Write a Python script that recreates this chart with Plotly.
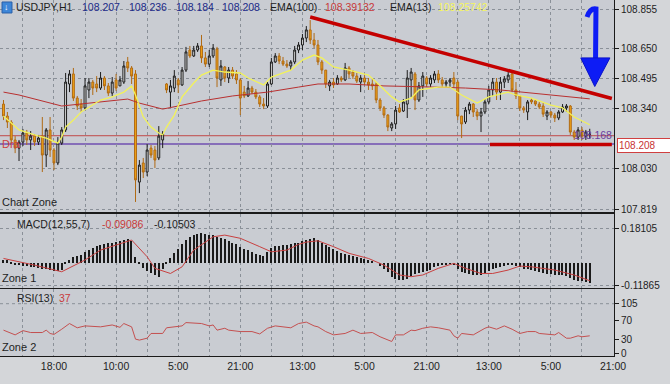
import plotly.graph_objects as go
from plotly.subplots import make_subplots

# ---------------- data ----------------
bars = list(range(152))

opens = [108.364,108.302,108.271,108.178,108.136,108.167,108.214,108.178,108.198,108.167,
         108.198,108.100,108.230,108.126,108.059,108.162,108.230,108.468,108.520,108.395,
         108.364,108.344,108.437,108.478,108.468,108.447,108.499,108.458,108.421,108.489,
         108.458,108.478,108.582,108.551,108.520,107.960,108.059,108.012,108.136,108.126,
         108.085,108.178,108.468,108.426,108.447,108.489,108.463,108.540,108.644,108.613,
         108.644,108.665,108.603,108.571,108.613,108.649,108.489,108.556,108.499,108.540,
         108.520,108.489,108.426,108.406,108.447,108.426,108.401,108.364,108.354,108.468,
         108.582,108.613,108.587,108.571,108.561,108.582,108.644,108.670,108.706,108.748,
         108.696,108.670,108.582,108.540,108.458,108.478,108.468,108.499,108.489,108.551,
         108.530,108.509,108.478,108.499,108.478,108.468,108.468,108.385,108.344,108.307,
         108.240,108.261,108.344,108.328,108.364,108.489,108.520,108.385,108.458,108.499,
         108.468,108.489,108.520,108.489,108.468,108.478,108.499,108.478,108.302,108.271,
         108.333,108.364,108.323,108.302,108.323,108.375,108.437,108.478,108.426,108.478,
         108.489,108.520,108.437,108.406,108.344,108.323,108.385,108.380,108.364,108.354,
         108.302,108.323,108.307,108.292,108.323,108.344,108.354,108.219,108.193,108.230,
         108.198,108.207]

highs = [108.385,108.323,108.281,108.198,108.178,108.235,108.230,108.224,108.209,108.204,
         108.297,108.240,108.297,108.136,108.193,108.245,108.525,108.540,108.551,108.406,
         108.390,108.499,108.499,108.489,108.509,108.530,108.509,108.473,108.504,108.520,
         108.509,108.587,108.608,108.561,108.540,108.074,108.085,108.157,108.152,108.147,
         108.250,108.224,108.473,108.489,108.540,108.499,108.556,108.660,108.665,108.665,
         108.680,108.722,108.634,108.644,108.675,108.660,108.592,108.561,108.556,108.556,
         108.540,108.499,108.458,108.483,108.458,108.442,108.411,108.395,108.478,108.603,
         108.628,108.628,108.608,108.592,108.592,108.665,108.685,108.727,108.768,108.799,
         108.732,108.696,108.592,108.540,108.489,108.499,108.514,108.509,108.577,108.561,
         108.540,108.525,108.514,108.514,108.499,108.499,108.478,108.395,108.354,108.312,
         108.271,108.354,108.364,108.390,108.540,108.551,108.530,108.478,108.530,108.509,
         108.514,108.535,108.540,108.504,108.489,108.499,108.530,108.489,108.302,108.349,
         108.375,108.369,108.338,108.344,108.390,108.458,108.499,108.499,108.504,108.509,
         108.540,108.530,108.478,108.406,108.354,108.385,108.395,108.385,108.375,108.369,
         108.333,108.328,108.318,108.333,108.364,108.364,108.359,108.230,108.245,108.245,
         108.230,108.236]

lows = [108.281,108.240,108.162,108.110,108.069,108.147,108.152,108.126,108.147,108.152,
        108.012,108.038,108.090,108.022,108.048,108.152,108.219,108.426,108.380,108.333,
        108.323,108.333,108.395,108.411,108.426,108.437,108.437,108.406,108.406,108.432,
        108.458,108.468,108.530,108.468,107.857,107.903,107.981,107.991,108.085,108.033,
        108.074,108.136,108.421,108.349,108.426,108.421,108.458,108.530,108.603,108.608,
        108.634,108.577,108.556,108.556,108.603,108.452,108.458,108.478,108.473,108.494,
        108.468,108.307,108.395,108.401,108.416,108.390,108.349,108.338,108.344,108.463,
        108.577,108.571,108.561,108.551,108.540,108.571,108.628,108.644,108.685,108.675,
        108.654,108.566,108.520,108.447,108.432,108.447,108.463,108.478,108.483,108.499,
        108.494,108.473,108.426,108.463,108.437,108.437,108.369,108.328,108.292,108.224,
        108.224,108.235,108.318,108.323,108.292,108.401,108.333,108.375,108.401,108.452,
        108.452,108.473,108.473,108.452,108.452,108.452,108.447,108.281,108.188,108.261,
        108.312,108.297,108.281,108.219,108.312,108.364,108.406,108.385,108.385,108.447,
        108.473,108.426,108.390,108.328,108.318,108.281,108.364,108.354,108.338,108.297,
        108.281,108.292,108.271,108.281,108.318,108.323,108.204,108.178,108.178,108.178,
        108.178,108.184]

closes = [108.302,108.271,108.178,108.136,108.167,108.214,108.178,108.198,108.167,108.188,
          108.100,108.230,108.126,108.059,108.162,108.230,108.478,108.520,108.395,108.354,
          108.344,108.458,108.478,108.447,108.447,108.499,108.458,108.421,108.478,108.447,
          108.489,108.561,108.551,108.509,107.971,108.048,108.012,108.126,108.100,108.074,
          108.198,108.209,108.437,108.458,108.509,108.463,108.540,108.634,108.613,108.644,
          108.665,108.603,108.571,108.613,108.654,108.499,108.561,108.499,108.540,108.509,
          108.489,108.395,108.406,108.447,108.426,108.401,108.364,108.354,108.468,108.582,
          108.613,108.587,108.571,108.561,108.582,108.644,108.670,108.706,108.748,108.696,
          108.670,108.582,108.540,108.468,108.478,108.463,108.499,108.489,108.551,108.520,
          108.509,108.483,108.499,108.478,108.463,108.458,108.385,108.344,108.307,108.245,
          108.261,108.333,108.323,108.375,108.499,108.530,108.385,108.458,108.509,108.468,
          108.499,108.520,108.489,108.468,108.478,108.489,108.468,108.302,108.261,108.333,
          108.364,108.323,108.302,108.323,108.375,108.437,108.478,108.426,108.478,108.494,
          108.514,108.437,108.406,108.344,108.333,108.375,108.375,108.364,108.349,108.312,
          108.323,108.307,108.292,108.323,108.349,108.354,108.219,108.193,108.230,108.198,
          108.219,108.208]

ema13_x = [0,2,4,8,11,14,15,16,18,20,25,28,31,33,34,36,38,40,41,42,44,46,49,51,54,57,61,63,67,69,
           74,77,80,82,85,89,94,96,100,102,105,107,112,115,118,122,125,130,132,136,141,144,147,151]
ema13_y = [108.302,108.266,108.230,108.204,108.188,108.162,108.193,108.245,108.281,108.323,
           108.385,108.401,108.426,108.458,108.411,108.297,108.245,108.214,108.204,108.245,
           108.307,108.401,108.473,108.514,108.540,108.530,108.525,108.499,108.463,108.504,
           108.540,108.592,108.618,108.603,108.556,108.540,108.514,108.478,108.401,108.375,
           108.395,108.437,108.452,108.452,108.411,108.369,108.401,108.426,108.411,108.395,
           108.359,108.344,108.297,108.257]

ema100_x = [0,4,15,22,27,32,35,41,45,51,59,68,76,81,89,98,111,119,128,136,145,151]
ema100_y = [108.426,108.411,108.354,108.369,108.380,108.390,108.369,108.338,108.354,108.380,
            108.406,108.426,108.452,108.468,108.468,108.458,108.452,108.447,108.437,108.421,
            108.401,108.391]

macd_hist = [0.020,0.018,0.010,-0.005,-0.010,-0.012,-0.015,-0.018,-0.020,-0.022,
             -0.030,-0.032,-0.035,-0.040,-0.042,-0.035,0.005,0.020,0.035,0.040,
             0.045,0.060,0.070,0.080,0.090,0.095,0.100,0.105,0.110,0.115,
             0.120,0.125,0.130,0.120,0.035,0.010,-0.025,-0.040,-0.050,-0.060,
             -0.070,-0.030,0.010,0.030,0.055,0.075,0.100,0.125,0.140,0.150,
             0.155,0.158,0.155,0.150,0.148,0.140,0.135,0.128,0.120,0.110,
             0.100,0.085,0.075,0.068,0.060,0.052,0.045,0.040,0.060,0.080,
             0.090,0.092,0.095,0.097,0.100,0.105,0.110,0.118,0.125,0.130,
             0.132,0.125,0.110,0.095,0.085,0.075,0.065,0.055,0.050,0.045,
             0.040,0.035,0.028,0.022,0.018,0.012,0.000,-0.015,-0.030,-0.045,
             -0.070,-0.080,-0.085,-0.088,-0.080,-0.065,-0.058,-0.050,-0.045,-0.040,
             -0.035,-0.020,-0.012,-0.008,-0.005,-0.003,-0.010,-0.030,-0.045,-0.050,
             -0.055,-0.060,-0.062,-0.060,-0.050,-0.040,-0.030,-0.025,-0.020,-0.012,
             -0.005,-0.008,-0.012,-0.020,-0.028,-0.030,-0.035,-0.040,-0.045,-0.050,
             -0.055,-0.058,-0.062,-0.062,-0.063,-0.065,-0.075,-0.085,-0.090,-0.095,
             -0.100,-0.105]

signal_x = [0,8,15,21,25,30,33,37,39,43,46,49,54,57,61,66,69,73,76,78,81,85,89,94,98,102,105,108,
            112,116,119,123,126,130,133,136,142,147,151]
signal_y = [0.026,-0.009,-0.044,0.018,0.070,0.105,0.123,0.035,-0.026,-0.053,-0.018,0.070,0.140,
            0.149,0.132,0.088,0.061,0.070,0.100,0.112,0.119,0.088,0.053,0.026,-0.009,-0.061,
            -0.070,-0.061,-0.026,0.000,-0.026,-0.053,-0.053,-0.035,-0.014,-0.018,-0.035,-0.061,
            -0.091]

rsi_x = [0,1,3,5,7,10,11,12,13,15,17,19,21,25,28,30,31,33,34,35,37,38,40,41,42,44,46,47,51,53,
         54,55,57,58,61,64,66,68,70,72,74,76,78,80,81,83,85,88,90,92,94,95,97,100,101,103,105,106,
         108,110,112,115,116,117,118,121,124,125,127,129,131,133,135,137,138,140,142,143,145,146,
         148,149,151]
rsi_y = [49,46,39,48,44,44,49,42,40,51,63,54,58,56,60,55,63,56,30,28,32,42,41,42,54,56,58,65,63,58,
         60,49,53,49,46,46,41,53,58,56,54,63,66,58,56,46,39,42,49,42,44,44,35,25,39,39,49,48,
         53,56,54,49,37,32,42,39,53,56,51,58,51,42,46,46,42,41,39,44,32,32,
         37,35,37]

time_labels = ["18:00", "10:00", "5:00", "21:00", "13:00", "5:00", "21:00", "13:00", "5:00", "21:00"]
price_ticks = [108.855, 108.650, 108.495, 108.340, 108.030, 107.819]
macd_ticks = [0.18105, -0.11865]
rsi_ticks = [0, 30, 70, 105]

# drawings (bar index, price)
trend_x = [79, 156.7]
trend_y = [108.815, 108.393]
support_x = [125.3, 156.7]
support_y = [108.155, 108.155]
bid_line = 108.200
purple_line = 108.157

# ---------------- figure ----------------
fig = make_subplots(rows=3, cols=1, shared_xaxes=True, vertical_spacing=0.005)

fig.add_trace(go.Candlestick(
    x=bars, open=opens, high=highs, low=lows, close=closes,
    increasing=dict(line=dict(color='#1c1c1c', width=1), fillcolor='#e6e6e6'),
    decreasing=dict(line=dict(color='#b06a14', width=1), fillcolor='#f2a516'),
    whiskerwidth=0, hoverinfo='skip'), row=1, col=1)
fig.add_trace(go.Scatter(x=ema100_x, y=ema100_y, mode='lines',
                         line=dict(color='#b83030', width=1)), row=1, col=1)
fig.add_trace(go.Scatter(x=ema13_x, y=ema13_y, mode='lines',
                         line=dict(color='#f2f25a', width=1.3)), row=1, col=1)
fig.add_trace(go.Scatter(x=trend_x, y=trend_y, mode='lines',
                         line=dict(color='#c40000', width=3.5)), row=1, col=1)
fig.add_trace(go.Scatter(x=support_x, y=support_y, mode='lines',
                         line=dict(color='#c40000', width=3.5)), row=1, col=1)

fig.add_trace(go.Bar(x=bars, y=macd_hist, width=0.32,
                     marker=dict(color='#1a1a1a', line=dict(width=0))), row=2, col=1)
fig.add_trace(go.Scatter(x=signal_x, y=signal_y, mode='lines',
                         line=dict(color='#c84040', width=1)), row=2, col=1)

fig.add_trace(go.Scatter(x=rsi_x, y=rsi_y, mode='lines',
                         line=dict(color='#c45050', width=1)), row=3, col=1)

grid_color = '#8a9098'
xgrid_vals = list(range(5, 158, 8))
xgrid_text = []
for v in xgrid_vals:
    k = (v - 13) // 16
    xgrid_text.append(time_labels[k] if (v - 13) % 16 == 0 and 0 <= k < len(time_labels) else '')

font_family = 'Liberation Sans, Arial, sans-serif'
fig.update_layout(
    width=670, height=384, margin=dict(l=0, r=56, t=0, b=28),
    paper_bgcolor='#d4d6d9', plot_bgcolor='#c9ccd2', showlegend=False,
    font=dict(family=font_family, size=10, color='#1e1e1e'), bargap=0,
)
for ax in ['xaxis', 'xaxis2', 'xaxis3']:
    fig.layout[ax].update(
        range=[-0.9, 157.25], tickmode='array', tickvals=xgrid_vals, ticktext=xgrid_text,
        showgrid=True, gridcolor=grid_color, griddash='dot', gridwidth=1,
        showline=True, mirror=True, linecolor='#1a1a1a', linewidth=1, ticks='',
        zeroline=False, rangeslider=dict(visible=False),
        showticklabels=(ax == 'xaxis3'), tickfont=dict(size=10.5, color='#1e1e1e'))

common_y = dict(side='right', showline=True, linecolor='#1a1a1a', linewidth=1,
                ticks='outside', ticklen=4, tickcolor='#1a1a1a', zeroline=False,
                gridcolor=grid_color, griddash='dot', tickfont=dict(size=10, color='#1e1e1e'))
fig.layout.yaxis.update(domain=[0.4045, 1], range=[107.805, 108.903], tickmode='array',
                        tickvals=price_ticks, ticktext=[f'{v:.3f}' for v in price_ticks],
                        showgrid=True, **common_y)
fig.layout.yaxis2.update(domain=[0.191, 0.3989], range=[-0.1295, 0.26], tickmode='array',
                         tickvals=macd_ticks, ticktext=[f'{v:.5f}' for v in macd_ticks],
                         showgrid=True, **common_y)
fig.layout.yaxis3.update(domain=[0, 0.1882], range=[-5.7, 136.1], tickmode='array',
                         tickvals=rsi_ticks, ticktext=[str(v) for v in rsi_ticks],
                         showgrid=False, **common_y)

shapes = [
    dict(type='line', xref='paper', x0=0, x1=1, yref='y', y0=bid_line, y1=bid_line,
         line=dict(color='#c04848', width=1), layer='below'),
    dict(type='line', xref='paper', x0=0, x1=1, yref='y', y0=purple_line, y1=purple_line,
         line=dict(color='#6f4fb0', width=1.6), layer='below'),
    dict(type='line', xref='paper', x0=0, x1=1, yref='y3', y0=105, y1=105,
         line=dict(color=grid_color, width=1, dash='dot'), layer='below'),
    # blue hand-drawn arrow
    dict(type='path', xref='x', yref='y',
         path='M 150.3,108.815 Q 151.1,108.862 152.6,108.857 L 152.5,108.603',
         line=dict(color='#0d1cf5', width=5)),
    dict(type='path', xref='x', yref='y',
         path='M 148.7,108.603 L 156.2,108.603 L 152.3,108.455 Z',
         fillcolor='#0d1cf5', line=dict(color='#0a12c8', width=1)),
    # symbol icon
    dict(type='rect', xref='paper', yref='paper', x0=0.0033, x1=0.0195, y0=0.9635, y1=0.9944,
         fillcolor='#3d86d8', line=dict(color='#2a5fa8', width=1)),
]
fig.update_layout(shapes=shapes)

def ann(text, x, y, color='#1e1e1e', size=10.5, xref='paper', yref='paper', **kw):
    d = dict(text=text, x=x, y=y, xref=xref, yref=yref, xanchor='left', yanchor='middle',
             showarrow=False, font=dict(family=font_family, size=size, color=color))
    d.update(kw)
    return d

annotations = [
    ann('↓', 0.0033, 0.980, color='white', size=9),
    ann('USDJPY,H1', 0.0228, 0.980),
    ann('108.207', 0.1303, 0.980, color='#1c2a88'),
    ann('108.236', 0.2068, 0.980, color='#1c2a88'),
    ann('108.184', 0.2834, 0.980, color='#1c2a88'),
    ann('108.208', 0.3583, 0.980, color='#1c2a88'),
    ann('EMA(100)', 0.4365, 0.980),
    ann('108.39132', 0.5261, 0.980, color='#c83a3a'),
    ann('EMA(13)', 0.6319, 0.980),
    ann('108.25742', 0.7101, 0.980, color='#f5f560'),
    ann('Chart Zone', 0.0, 0.4326, size=11),
    ann('Dra', 0.0, purple_line, color='#d04040', size=11, yref='y'),
    ann('MACD(12,55,7)', 0.0244, 0.3708),
    ann('-0.09086', 0.1629, 0.3708, color='#c83a3a'),
    ann('-0.10503', 0.2476, 0.3708),
    ann('Zone 1', 0.0, 0.2191, size=11),
    ann('RSI(13)', 0.0244, 0.1629),
    ann('37', 0.0928, 0.1629, color='#c83a3a'),
    ann('Zone 2', 0.0, 0.0253, size=11),
    ann('108.168', 1.0, 108.205, color='#6b3fa0', yref='y', xanchor='right'),
    ann('108.208', 1.0, 108.152, color='#c83232', size=10, yref='y', xshift=3,
        bgcolor='#ffffff', bordercolor='#d04040', borderwidth=1, borderpad=1,
        width=50, align='left'),
]
fig.update_layout(annotations=annotations)

fig.write_html("out.html", config={'displayModeBar': False},
               post_script="document.body.style.margin='0';document.body.style.overflow='hidden';")
